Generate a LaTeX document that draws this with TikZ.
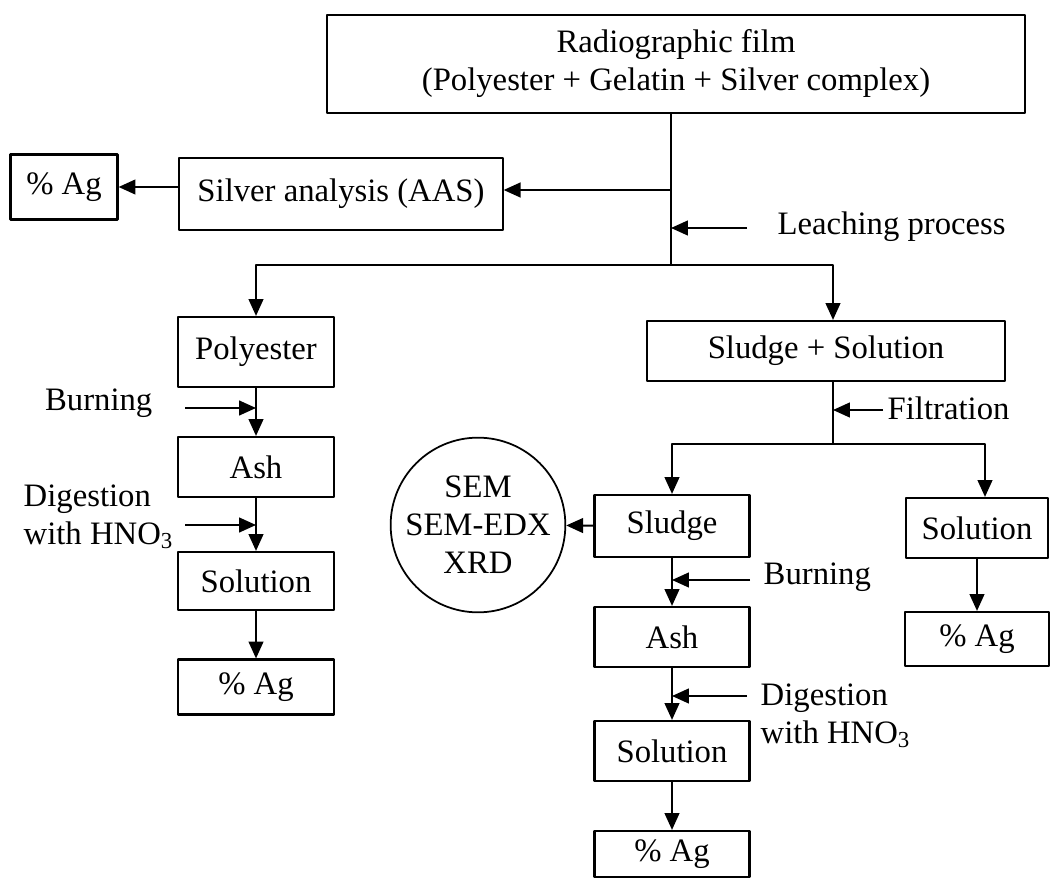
\documentclass[tikz,border=0pt]{standalone}
\usepackage{fontspec}
\setmainfont{Liberation Serif}
\usetikzlibrary{arrows.meta}
\begin{document}
\begin{tikzpicture}[x=0.01cm, y=-0.01cm, font=\fontsize{9.3}{10.8}\selectfont, line join=round,
	box/.style={draw, line width=.6pt, inner sep=0pt, align=center},
	lbl/.style={inner sep=0pt, align=left},
	arr/.style={-{Triangle[length=4.8pt,width=4.2pt]}, line width=.55pt}]
		\useasboundingbox (0,0) rectangle (1051,879);
		\node[box, minimum width=6.97cm, minimum height=.98cm] (film) at (676,64) {Radiographic film\\(Polyester + Gelatin + Silver complex)};
		\node[box, minimum width=1.07cm, minimum height=.65cm] (agtop) at (64,187) {\% Ag};
		\node[box, minimum width=3.23cm, minimum height=.72cm] (silver) at (341,194) {Silver analysis (AAS)};
		\node[box, minimum width=1.56cm, minimum height=.70cm] (poly) at (256,352) {Polyester};
		\node[box, minimum width=1.56cm, minimum height=.60cm] (ashL) at (256,467) {Ash};
		\node[box, minimum width=1.56cm, minimum height=.58cm] (solL) at (256,581) {Solution};
		\node[box, minimum width=1.56cm, minimum height=.55cm] (agL) at (256,687) {\% Ag};
		\node[box, minimum width=3.58cm, minimum height=.60cm] (sludsol) at (826,351) {Sludge + Solution};
		\node[box, minimum width=1.55cm, minimum height=.62cm] (sludge) at (672,526) {Sludge};
		\node[box, circle, line width=.5pt, minimum size=1.68cm] (sem) at (478,525) {SEM\\SEM-EDX\\XRD};
		\node[box, minimum width=1.55cm, minimum height=.60cm] (ashR) at (672,637) {Ash};
		\node[box, minimum width=1.55cm, minimum height=.60cm] (solM) at (672,751) {Solution};
		\node[box, minimum width=1.55cm, minimum height=.46cm] (agM) at (672,854) {\% Ag};
		\node[box, minimum width=1.42cm, minimum height=.60cm] (solR) at (977,528) {Solution};
		\node[box, minimum width=1.44cm, minimum height=.54cm] (agR) at (977,639) {\% Ag};
		\node[lbl, anchor=east] (burnL) at (153,403) {Burning};
		\node[lbl, anchor=west] (digL) at (23,517) {Digestion\\with HNO\textsubscript{3}};
		\node[lbl, anchor=west] (leach) at (777,227) {Leaching process};
		\node[lbl, anchor=west] (filt) at (887,408) {Filtration};
		\node[lbl, anchor=west] (burnR) at (763,577) {Burning};
		\node[lbl, anchor=west] (digR) at (760,716) {Digestion\\with HNO\textsubscript{3}};
		\coordinate (j1) at (671,265);
		\coordinate (j2) at (833,265);
		\coordinate (j3) at (833,444);
		\coordinate (j4) at (985,444);
		\coordinate (aas) at (671,190);
		\coordinate (leachA) at (747,228);
		\coordinate (burnLa) at (185,408);
		\coordinate (digLa) at (185,525);
		\coordinate (filtA) at (883,410);
		\coordinate (burnRa) at (750,580);
		\coordinate (digRa) at (747,696);
		\draw[line width=.55pt] (film.south -| j1) -- (j1) (sludsol.south -| j3) -- (j3);
		\draw[arr] (aas) -- (aas -| silver.east);
		\draw[arr] (silver.west |- agtop.east) -- (agtop.east);
		\draw[arr] (leachA) -- (leachA -| j1);
		\draw[arr] (j1) -| (poly.north);
		\draw[arr] (j1) -- (j2) -- (sludsol.north -| j2);
		\draw[arr] (poly) -- (ashL);
		\draw[arr] (burnLa) -- (burnLa -| poly.south);
		\draw[arr] (ashL) -- (solL);
		\draw[arr] (digLa) -- (digLa -| ashL.south);
		\draw[arr] (solL) -- (agL);
		\draw[arr] (filtA) -- (filtA -| j3);
		\draw[arr] (j3) -| (sludge.north);
		\draw[arr] (j3) -- (j4) -- (solR.north -| j4);
		\draw[arr] (sludge) -- (sem);
		\draw[arr] (sludge) -- (ashR);
		\draw[arr] (burnRa) -- (burnRa -| sludge.south);
		\draw[arr] (ashR) -- (solM);
		\draw[arr] (digRa) -- (digRa -| ashR.south);
		\draw[arr] (solM) -- (agM);
		\draw[arr] (solR) -- (agR);
\end{tikzpicture}
\end{document}
